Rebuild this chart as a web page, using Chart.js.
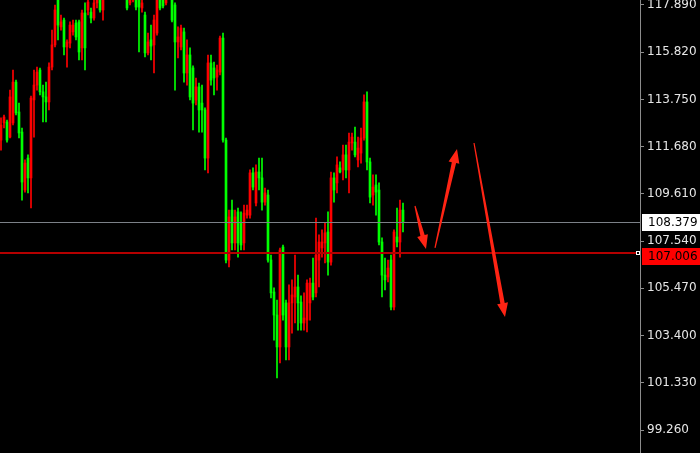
<!DOCTYPE html>
<html>
<head>
<meta charset="utf-8">
<script src="https://cdn.jsdelivr.net/npm/chart.js@4.4.1/dist/chart.umd.min.js"></script>
<style>
  html, body { margin: 0; padding: 0; background: #000; }
  canvas { display: block; }
</style>
</head>
<body>
<canvas id="chart" width="700" height="453"></canvas>
<script>
// candles, oldest first (one per bar slot)
const opens = [
  111.97, 112.72, 112.76, 112.10, 112.72, 114.51, 113.20, 112.32, 109.78, 111.18,
  110.31, 113.73, 114.38, 115.04, 114.08, 113.86, 113.64, 115.17, 116.14, 118.33,
  116.93, 117.23, 116.05, 116.22, 116.71, 117.10, 117.15, 116.01, 117.54, 117.67,
  117.58, 117.32, 117.98, 118.33, 117.67, 118.55, 119.20, 119.64, 119.34, 119.86,
  119.42, 118.90, 118.46, 117.98, 118.11, 118.63, 118.24, 117.76, 117.45, 115.79,
  116.36, 116.14, 116.66, 118.20, 118.33, 117.98, 118.37, 118.33, 117.89, 116.27,
  116.05, 116.71, 114.91, 115.70, 115.13, 113.73, 114.30, 113.59, 113.29, 111.18,
  115.35, 115.13, 114.73, 114.95, 116.44, 111.97, 106.71, 108.90, 107.46, 108.82,
  108.33, 107.46, 108.68, 108.68, 110.53, 109.21, 110.57, 110.31, 109.25, 109.56,
  106.71, 105.31, 104.30, 102.90, 107.28, 104.83, 102.90, 104.83, 105.09, 105.53,
  104.87, 103.95, 104.08, 104.83, 105.70, 105.27, 106.71, 107.24, 107.46, 107.94,
  106.62, 110.31, 110.09, 110.75, 110.66, 111.32, 110.66, 111.84, 111.88, 111.10,
  111.40, 112.06, 113.64, 111.01, 109.56, 110.00, 109.78, 107.50, 106.05, 105.97,
  106.71, 104.65, 107.72, 107.50, 108.90
];
const highs = [
  112.94, 113.07, 112.85, 114.16, 115.04, 114.60, 113.59, 112.50, 111.10, 111.32,
  113.90, 115.04, 115.17, 115.13, 114.38, 114.51, 115.35, 116.79, 117.89, 118.55,
  117.45, 117.32, 116.36, 117.15, 117.23, 117.23, 117.23, 117.67, 117.98, 118.20,
  117.76, 118.24, 118.63, 118.55, 118.77, 119.42, 119.95, 120.08, 120.21, 120.13,
  119.64, 119.07, 118.63, 118.55, 118.90, 118.77, 118.37, 118.20, 117.58, 116.66,
  117.01, 117.45, 118.33, 118.37, 118.46, 118.55, 118.81, 118.46, 117.98, 116.93,
  117.01, 116.88, 116.36, 116.01, 115.22, 114.69, 114.47, 114.38, 113.38, 115.70,
  115.70, 115.39, 115.26, 116.53, 116.66, 112.06, 108.90, 109.34, 108.90, 108.99,
  108.82, 109.12, 109.12, 110.66, 110.75, 110.88, 111.18, 111.18, 109.87, 109.78,
  106.93, 105.49, 104.96, 107.24, 107.37, 104.96, 105.62, 105.84, 106.93, 106.05,
  105.14, 105.27, 105.84, 105.92, 106.80, 108.55, 107.81, 108.03, 108.33, 108.82,
  110.57, 110.53, 111.23, 111.01, 111.75, 111.75, 112.28, 112.28, 112.54, 112.10,
  112.50, 113.95, 114.08, 111.18, 110.44, 110.44, 110.09, 107.68, 106.80, 106.71,
  106.93, 108.03, 108.99, 109.34, 109.21
];
const lows = [
  111.53, 112.50, 111.88, 112.06, 112.63, 113.07, 112.06, 109.34, 109.69, 109.65,
  108.99, 112.10, 114.16, 113.95, 112.76, 112.76, 113.29, 115.04, 116.05, 116.36,
  116.79, 115.70, 115.17, 116.01, 116.57, 116.36, 115.48, 115.48, 115.04, 117.45,
  117.10, 117.23, 117.76, 117.58, 117.23, 118.33, 118.99, 119.07, 119.16, 119.20,
  118.63, 118.28, 117.67, 117.89, 118.02, 117.67, 115.83, 117.58, 115.61, 115.70,
  115.48, 114.91, 116.57, 117.67, 117.76, 117.89, 118.24, 117.15, 114.16, 115.57,
  115.92, 114.51, 114.38, 113.73, 112.41, 113.51, 112.32, 112.32, 110.66, 110.53,
  114.38, 113.95, 114.16, 114.82, 111.88, 106.58, 106.41, 107.15, 107.15, 106.84,
  107.15, 107.15, 108.55, 108.55, 109.78, 109.08, 109.78, 108.90, 109.12, 106.62,
  105.05, 103.20, 101.54, 102.20, 104.08, 102.33, 102.33, 103.51, 103.95, 103.64,
  103.64, 103.64, 103.56, 104.08, 104.96, 105.09, 105.53, 106.84, 106.58, 106.05,
  106.49, 109.25, 109.65, 110.53, 110.22, 110.31, 109.65, 111.53, 111.23, 110.79,
  110.96, 111.97, 110.66, 109.21, 109.12, 108.68, 107.37, 105.09, 105.40, 105.75,
  104.52, 104.52, 107.28, 106.84, 107.94
];
const closes = [
  112.63, 112.98, 111.97, 113.86, 114.51, 113.16, 112.28, 110.13, 110.96, 110.31,
  113.81, 114.38, 114.95, 114.08, 113.86, 113.64, 115.17, 116.14, 117.67, 117.01,
  117.15, 116.05, 116.27, 117.01, 117.01, 116.49, 115.83, 117.54, 116.01, 118.02,
  117.32, 117.98, 118.46, 117.67, 118.55, 119.20, 119.64, 119.34, 119.86, 119.42,
  118.90, 118.46, 117.76, 118.33, 118.63, 117.80, 117.80, 117.98, 115.79, 116.27,
  116.09, 117.23, 118.11, 117.76, 117.85, 118.37, 118.63, 117.23, 116.27, 116.49,
  116.88, 114.91, 115.70, 113.86, 113.59, 114.30, 113.29, 113.29, 111.18, 115.35,
  114.60, 114.69, 115.04, 116.44, 111.97, 106.71, 108.60, 107.46, 108.60, 107.46,
  107.37, 108.77, 108.90, 110.53, 109.91, 110.57, 110.31, 109.25, 109.65, 106.71,
  105.27, 104.30, 102.90, 107.15, 104.30, 102.90, 104.83, 105.18, 105.53, 104.83,
  103.95, 104.17, 105.70, 105.70, 105.09, 106.93, 107.50, 107.50, 107.90, 106.62,
  110.31, 109.78, 110.88, 110.57, 111.32, 110.66, 111.88, 112.10, 111.32, 111.62,
  112.06, 113.64, 111.01, 109.47, 109.91, 109.69, 107.50, 106.05, 105.84, 106.36,
  104.65, 107.94, 107.50, 108.90, 108.379
];

const priceTicks = [99.26, 101.33, 103.40, 105.47, 107.54, 109.61, 111.68, 113.75, 115.82, 117.89];
const bidPrice = 108.379;
const levelPrice = 107.006;

// hand-drawn arrows: [bar index, price] start and tip
const arrowStarts = [[138.0, 109.08], [144.67, 107.24], [157.67, 111.84]];
const arrowTips = [[141.67, 107.19], [152.0, 111.58], [168.0, 104.21]];

const UP_COLOR = "#ff0000";
const DOWN_COLOR = "#00ff00";
const FONT = "DejaVu Sans";

const idx = opens.map((_, i) => i);
const candleColors = idx.map((i) => (closes[i] >= opens[i] ? UP_COLOR : DOWN_COLOR));

function drawArrow(ctx, x1, y1, x2, y2) {
  const len = Math.hypot(x2 - x1, y2 - y1);
  const ux = (x2 - x1) / len, uy = (y2 - y1) / len;
  const nx = -uy, ny = ux;
  const headLen = 14, headW = 5.5, shaftEnd = 2.2, shaftStart = 0.6;
  const bx = x2 - ux * headLen, by = y2 - uy * headLen;
  ctx.beginPath();
  ctx.moveTo(x1 + nx * shaftStart, y1 + ny * shaftStart);
  ctx.lineTo(bx + nx * shaftEnd, by + ny * shaftEnd);
  ctx.lineTo(bx + nx * headW, by + ny * headW);
  ctx.lineTo(x2, y2);
  ctx.lineTo(bx - nx * headW, by - ny * headW);
  ctx.lineTo(bx - nx * shaftEnd, by - ny * shaftEnd);
  ctx.lineTo(x1 - nx * shaftStart, y1 - ny * shaftStart);
  ctx.closePath();
  ctx.fill();
}

function priceTag(ctx, left, right, top, h, text, bg) {
  ctx.fillStyle = bg;
  ctx.fillRect(left, top, right - left, h);
  ctx.fillStyle = "#000";
  ctx.font = `12px "${FONT}"`;
  ctx.textAlign = "left";
  ctx.textBaseline = "middle";
  ctx.fillText(text, left + 6, top + h / 2 + 0.5);
}

const overlay = {
  id: "overlay",
  afterDatasetsDraw(chart) {
    const { ctx, chartArea: a, scales } = chart;
    const yb = Math.round(scales.y.getPixelForValue(bidPrice));
    const yl = Math.round(scales.y.getPixelForValue(levelPrice));
    ctx.save();
    ctx.fillStyle = "#7c8188";
    ctx.fillRect(a.left, yb, a.right - a.left, 1);
    ctx.fillStyle = "#b40000";
    ctx.fillRect(a.left, yl - 1, a.right - a.left - 3, 2);
    ctx.strokeStyle = "#ffffff";
    ctx.lineWidth = 1;
    ctx.strokeRect(a.right - 3.5, yl - 1.5, 3, 3);

    ctx.fillStyle = "#ff2414";
    arrowStarts.forEach((s, i) => {
      const t = arrowTips[i];
      drawArrow(
        ctx,
        scales.x.getPixelForValue(s[0]), scales.y.getPixelForValue(s[1]),
        scales.x.getPixelForValue(t[0]), scales.y.getPixelForValue(t[1])
      );
    });
    ctx.restore();
  },
  afterDraw(chart) {
    const { ctx, chartArea: a, scales } = chart;
    const yb = scales.y.getPixelForValue(bidPrice);
    const yl = scales.y.getPixelForValue(levelPrice);
    ctx.save();
    priceTag(ctx, a.right + 2, chart.width, Math.round(yb - 8), 17, bidPrice.toFixed(3), "#ffffff");
    priceTag(ctx, a.right + 2, chart.width, Math.round(yl - 5), 17, levelPrice.toFixed(3), "#ff0000");
    ctx.restore();
  },
};

new Chart(document.getElementById("chart"), {
  type: "bar",
  data: {
    datasets: [
      {
        label: "wick",
        data: idx.map((i) => ({ x: i, y: [lows[i], highs[i]] })),
        backgroundColor: candleColors,
        barThickness: 1,
        grouped: false,
        order: 2,
      },
      {
        label: "body",
        data: idx.map((i) => ({ x: i, y: [opens[i], closes[i]] })),
        backgroundColor: candleColors,
        barThickness: 2,
        grouped: false,
        order: 1,
      },
    ],
  },
  options: {
    responsive: false,
    animation: false,
    layout: { padding: 0 },
    plugins: { legend: { display: false }, tooltip: { enabled: false } },
    scales: {
      x: { type: "linear", display: false, min: -1 / 3, max: 213, offset: false },
      y: {
        position: "right",
        min: 98.252,
        max: 118.109,
        afterBuildTicks: (s) => {
          s.ticks = priceTicks.map((v) => ({ value: v }));
        },
        afterFit: (s) => {
          s.width = 60;
          s.paddingTop = 0;
          s.paddingBottom = 0;
        },
        grid: { drawOnChartArea: false, drawTicks: true, tickLength: 4, color: "#8c8c8c" },
        border: { display: true, color: "#8c8c8c" },
        ticks: {
          color: "#e6e6e6",
          padding: 3,
          font: { family: FONT, size: 12 },
          callback: (v) => Number(v).toFixed(3),
        },
      },
    },
  },
  plugins: [overlay],
});
</script>
</body>
</html>
